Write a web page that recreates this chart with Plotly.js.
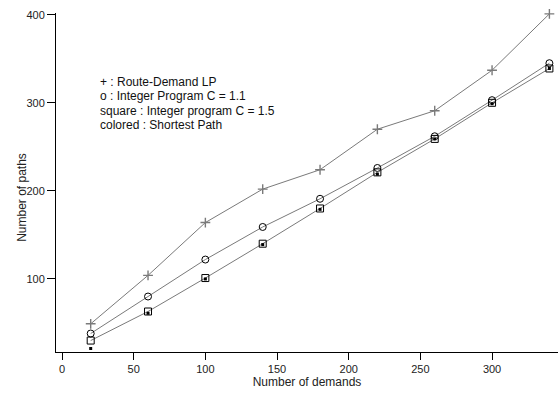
<!DOCTYPE html>
<html>
<head>
<meta charset="utf-8">
<script src="https://cdn.plot.ly/plotly-3.0.1.min.js"></script>
<style>html,body{margin:0;padding:0;background:#fff;}#chart{width:558px;height:400px;}</style>
</head>
<body>
<div id="chart"></div>
<script>
const demands = [20, 60, 100, 140, 180, 220, 260, 300, 340];
const routeDemandLP = [49, 104, 164, 202, 224, 270, 291, 337, 401];
const integerC11 = [38, 80, 122, 159, 191, 226, 262, 303, 345];
const integerC15 = [30, 63, 101, 140, 180, 221, 259, 300, 339];
const shortestPath = [21, 61, 100, 139, 179, 219, 259, 299, 339];
const legendLines = [
  "+ : Route-Demand LP",
  "o : Integer Program C = 1.1",
  "square : Integer program C = 1.5",
  "colored : Shortest Path"
];
const xTitle = "Number of demands";
const yTitle = "Number of paths";

const lineColor = "#7a7a7a";
const fam = "Liberation Sans, Arial, sans-serif";
const tickFont = {family: fam, size: 11, color: "#222"};
const textFont = {family: fam, size: 12, color: "#222"};

const traces = [
  {x: demands, y: routeDemandLP, mode: "lines+markers", name: legendLines[0], cliponaxis: false,
   line: {color: lineColor, width: 1},
   marker: {symbol: "cross-thin-open", size: 7, line: {color: "#000", width: 1.4}}},
  {x: demands, y: integerC11, mode: "lines+markers", name: legendLines[1], cliponaxis: false,
   line: {color: lineColor, width: 1},
   marker: {symbol: "circle-open", size: 7, color: "#000", line: {color: "#000", width: 1}}},
  {x: demands, y: integerC15, mode: "lines+markers", name: legendLines[2], cliponaxis: false,
   line: {color: lineColor, width: 1},
   marker: {symbol: "square-open", size: 7, color: "#000", line: {color: "#000", width: 1}}},
  {x: demands, y: shortestPath, mode: "markers", name: legendLines[3], cliponaxis: false,
   marker: {symbol: "square", size: 3, color: "#000"}}
];

// plot area spans pixel rows 13..352
const legendRows = [82, 96.5, 111, 125.5];
const annotations = legendLines.map((t, i) => ({
  text: t, xref: "paper", yref: "paper", x: 0.084, y: (352 - legendRows[i]) / 339,
  xanchor: "left", yanchor: "middle", showarrow: false,
  font: {family: fam, size: 12, color: "#111"}
}));
annotations.push({
  text: yTitle, xref: "paper", yref: "paper", x: -0.068, y: (352 - 197) / 339,
  xanchor: "center", yanchor: "middle", textangle: -90, showarrow: false,
  font: textFont
});

const layout = {
  width: 558, height: 400,
  margin: {l: 56, r: 0, t: 13, b: 48, pad: 0},
  paper_bgcolor: "#fff", plot_bgcolor: "#fff",
  showlegend: false,
  font: tickFont,
  xaxis: {
    range: [-4.2, 346], tickvals: [0, 50, 100, 150, 200, 250, 300],
    showgrid: false, zeroline: false, showline: true, linecolor: "#000", linewidth: 1,
    ticks: "outside", ticklen: 7, tickcolor: "#000", tickfont: tickFont,
    title: {text: xTitle, font: textFont, standoff: 2}
  },
  yaxis: {
    range: [17, 402], tickvals: [100, 200, 300, 400],
    showgrid: false, zeroline: false, showline: true, linecolor: "#000", linewidth: 1,
    ticks: "outside", ticklen: 8, tickcolor: "#000", tickfont: tickFont
  },
  annotations: annotations
};

Plotly.newPlot("chart", traces, layout, {staticPlot: true, displayModeBar: false});
</script>
</body>
</html>
